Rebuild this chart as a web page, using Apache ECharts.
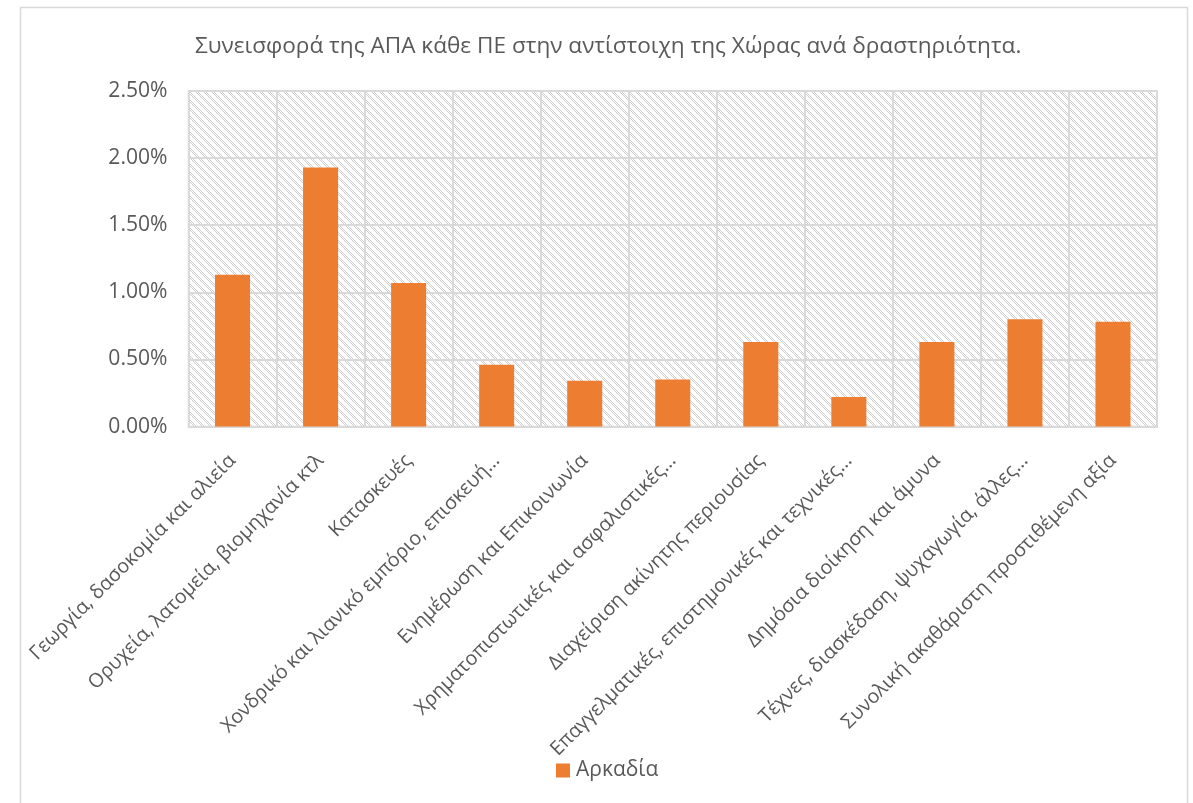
<!DOCTYPE html>
<html>
<head>
<meta charset="utf-8">
<script src="https://cdn.jsdelivr.net/npm/echarts@6/dist/echarts.min.js"></script>
<style>
html,body{margin:0;padding:0;background:#fff;}
#chart{width:1193px;height:803px;}
</style>
</head>
<body>
<div id="chart"></div>
<script>
const titleText = 'Συνεισφορά της ΑΠΑ κάθε ΠΕ στην αντίστοιχη της Χώρας ανά δραστηριότητα.';
const seriesName = 'Αρκαδία';
const categories = [
  'Γεωργία, δασοκομία και αλιεία',
  'Ορυχεία, λατομεία, βιομηχανία κτλ',
  'Κατασκευές',
  'Χονδρικό και λιανικό εμπόριο, επισκευή…',
  'Ενημέρωση και Επικοινωνία',
  'Χρηματοπιστωτικές και ασφαλιστικές…',
  'Διαχείριση ακίνητης περιουσίας',
  'Επαγγελματικές, επιστημονικές και τεχνικές…',
  'Δημόσια διοίκηση και άμυνα',
  'Τέχνες, διασκέδαση, ψυχαγωγία, άλλες…',
  'Συνολική ακαθάριστη προστιθέμενη αξία'
];
// values in percent
const values = [1.13, 1.93, 1.07, 0.46, 0.34, 0.35, 0.63, 0.22, 0.63, 0.80, 0.78];
const yMin = 0, yMax = 2.5, yStep = 0.5;

// hatch pattern
const pc = document.createElement('canvas');
pc.width = 8; pc.height = 8;
const pctx = pc.getContext('2d');
pctx.fillStyle = '#ffffff';
pctx.fillRect(0,0,8,8);
pctx.fillStyle = '#cfcfcf';
for (let y = 0; y < 8; y++) {
  for (let x = 0; x < 8; x++) {
    const d = (x - y + 16) % 8;
    if ((d === 0 || d === 2)) pctx.fillRect(x, y, 1, 1);
  }
}

const FONT = '"Open Sans", "Noto Sans", sans-serif';
const chart = echarts.init(document.getElementById('chart'), null, {renderer: 'canvas'});
chart.setOption({
  animation: false,
  backgroundColor: '#ffffff',
  textStyle: {fontFamily: FONT},
  title: {
    text: titleText,
    left: 190,
    top: 30,
    textStyle: {fontFamily: FONT, fontSize: 22.6, fontWeight: 'normal', color: '#595959'}
  },
  graphic: [{
    type: 'rect',
    left: 18, top: 5,
    shape: {width: 1167, height: 820},
    style: {fill: 'none', stroke: '#d9d9d9', lineWidth: 1.5},
    silent: true, z: -1
  }],
  legend: {
    data: [seriesName],
    left: 551,
    top: 755,
    itemWidth: 14, itemHeight: 14,
    icon: 'rect',
    itemGap: 10,
    itemStyle: {borderWidth: 0},
    textStyle: {fontFamily: FONT, fontSize: 21, color: '#595959', padding: [0, 0, 0, 1]}
  },
  grid: {
    left: 188.5, right: 36, top: 91, bottom: 376.5,
    show: true,
    backgroundColor: {image: pc, repeat: 'repeat'},
    borderColor: '#d9d9d9', borderWidth: 1.5,
    containLabel: false
  },
  xAxis: {
    type: 'category',
    data: categories,
    boundaryGap: true,
    axisLine: {show: true, lineStyle: {color: '#d9d9d9', width: 2}},
    axisTick: {show: false},
    splitLine: {show: true, interval: 0, lineStyle: {color: '#d9d9d9', width: 2}},
    axisLabel: {
      interval: 0, rotate: 45, margin: 17,
      verticalAlign: 'top',
      padding: [0, 10, 0, 0],
      fontFamily: FONT, fontSize: 19.6, color: '#595959'
    }
  },
  yAxis: {
    type: 'value',
    min: yMin, max: yMax, interval: yStep,
    axisLine: {show: false},
    axisTick: {show: false},
    splitLine: {show: true, lineStyle: {color: '#d9d9d9', width: 2}},
    axisLabel: {
      margin: 21,
      fontFamily: FONT, fontSize: 21.1, color: '#595959',
      formatter: v => v.toFixed(2) + '%'
    }
  },
  series: [{
    name: seriesName,
    type: 'bar',
    data: values,
    barWidth: 35,
    itemStyle: {color: '#ED7D31'}
  }]
});
</script>
</body>
</html>
